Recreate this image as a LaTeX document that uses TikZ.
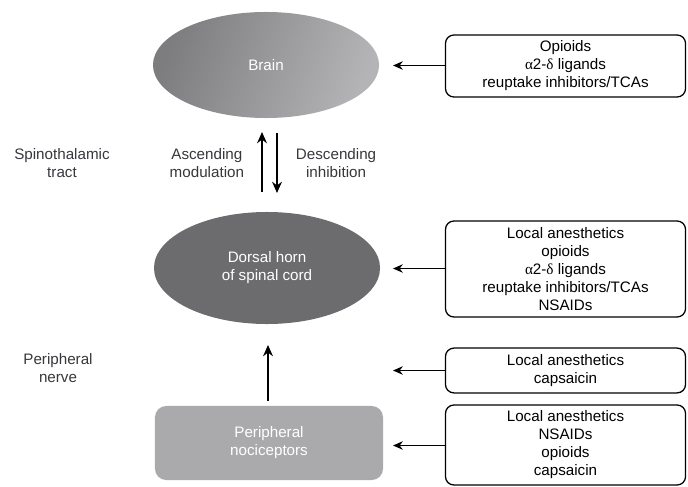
\documentclass[tikz,border=0pt]{standalone}
\usepackage{xcolor}
\usepackage{fontspec}
\setmainfont{Liberation Sans}
\newfontfamily\greekfont{Liberation Serif}
\usepackage{tikz}
\usetikzlibrary{shapes,arrows,arrows.meta,positioning}

\definecolor{braindark}{RGB}{125,125,128}
\definecolor{brainlight}{RGB}{180,180,183}
\definecolor{horngray}{RGB}{108,108,111}
\definecolor{nocigray}{RGB}{170,170,172}
\definecolor{labelgray}{RGB}{55,55,60}
\newcommand{\grk}[1]{{\greekfont #1}}

\begin{document}
\begin{tikzpicture}[x=0.025cm, y=-0.025cm,
    organ/.style={ellipse, minimum width=5.65cm, minimum height=2.65cm, inner sep=0pt,
        text=white, align=center, font=\fontsize{10.8}{12.8}\selectfont},
    drugs/.style={draw, rounded corners=6pt, line width=0.9pt, minimum width=6cm,
        align=center, inner sep=2pt, font=\fontsize{10.8}{12.8}\selectfont},
    side/.style={align=center, text=labelgray, font=\fontsize{10.8}{12.8}\selectfont},
    arrow/.style={-{Stealth[length=7pt,width=6pt]}, line width=0.8pt},
    bigarrow/.style={-{Stealth[length=8pt,width=7pt]}, line width=1.2pt}]
    \useasboundingbox (0,0) rectangle (688,486);

    \node[organ, left color=braindark, right color=brainlight, shading angle=70] (brain) at (266,65) {Brain};
    \node[organ, fill=horngray, minimum height=2.8cm] (horn) at (267,268) {Dorsal horn\\of spinal cord};
    \node[organ, rectangle, rounded corners=8pt, fill=nocigray, minimum width=5.7cm, minimum height=1.85cm] (noci) at (269,443) {Peripheral\\nociceptors};

    \node[side] (tract) at (62,163) {Spinothalamic\\tract};
    \node[side] (nerve) at (58,368) {Peripheral\\nerve};
    \node[side, anchor=east] (ascend) at (249,163) {Ascending\\modulation};
    \node[side, anchor=west] (descend) at (291,163) {Descending\\inhibition};

    \node[drugs, minimum height=1.55cm] (brainrx) at (565.5,66) {Opioids\\\grk{α}2-\grk{δ} ligands\\reuptake inhibitors/TCAs};
    \node[drugs, minimum height=2.4cm] (hornrx) at (565.5,269) {Local anesthetics\\opioids\\\grk{α}2-\grk{δ} ligands\\reuptake inhibitors/TCAs\\NSAIDs};
    \node[drugs, minimum height=1.12cm] (nerverx) at (565.5,370.5) {Local anesthetics\\capsaicin};
    \node[drugs, minimum height=2cm] (nocirx) at (565.5,445) {Local anesthetics\\NSAIDs\\opioids\\capsaicin};

    \coordinate (brainin) at (393,65.5);
    \coordinate (hornin) at (393,268.5);
    \coordinate (nervein) at (393,370.5);
    \coordinate (nociin) at (393,445.5);
    \coordinate (nerveup) at (268,345);
    \coordinate (upbot) at (262,192);
    \coordinate (uptop) at (262,132);
    \coordinate (downtop) at (277,133);
    \coordinate (downbot) at (277,193);

    \draw[arrow] (brainrx.west |- brainin) -- (brainin);
    \draw[arrow] (hornrx.west |- hornin) -- (hornin);
    \draw[arrow] (nerverx.west |- nervein) -- (nervein);
    \draw[arrow] (nocirx.west |- nociin) -- (nociin);

    \draw[bigarrow] (upbot) -- (uptop);
    \draw[bigarrow] (downtop) -- (downbot);
    \draw[bigarrow] (noci.north -| nerveup) ++(0,-5) -- (nerveup);
\end{tikzpicture}
\end{document}
